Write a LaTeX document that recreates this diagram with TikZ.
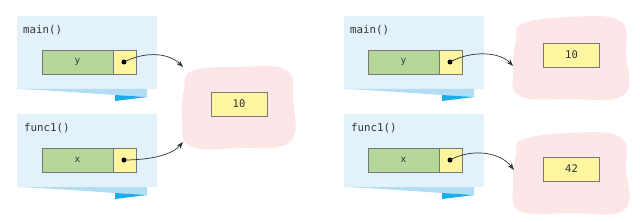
\documentclass[tikz,border=0pt]{standalone}
\usepackage{fontspec}
\setmonofont{DejaVu Sans Mono}
\usetikzlibrary{arrows.meta}
\definecolor{framebg}{HTML}{E3F1FB}
\definecolor{curlmid}{HTML}{B3DCF5}
\definecolor{curldark}{HTML}{19AEE9}
\definecolor{heap}{HTML}{FDE6E8}
\definecolor{vargreen}{HTML}{B5D89A}
\definecolor{ptryellow}{HTML}{FFF5A0}
\definecolor{edge}{HTML}{777777}
\definecolor{txt}{HTML}{333333}
\tikzset{
  title/.style={anchor=west,inner sep=0pt,font=\ttfamily\fontsize{10.8}{12}\selectfont,text=txt},
  namebox/.style={draw=edge,line width=0.8pt,fill=vargreen,minimum width=71pt,minimum height=24pt,inner sep=0pt,font=\ttfamily\fontsize{9.5}{10}\selectfont,text=txt},
  ptrbox/.style={draw=edge,line width=0.8pt,fill=ptryellow,minimum width=23pt,minimum height=24pt,inner sep=0pt},
  valbox/.style={draw=edge,line width=0.8pt,fill=ptryellow,minimum width=56pt,minimum height=24pt,inner sep=0pt,font=\ttfamily\fontsize{10.5}{11}\selectfont,text=txt},
  ptrdot/.style={circle,fill=black,inner sep=0pt,minimum size=5pt},
  ref/.style={-{Stealth[length=7pt,width=5pt]},line width=0.7pt,draw=black!80}
}
\newcommand{\stackframe}[2]{% x, y top
  \fill[framebg] (#1,#2) rectangle ++(140,73);
  \fill[curlmid] (#1,#2+73) -- ++(130,0) -- ++(0,8) .. controls (#1+80,#2+78) and (#1+30,#2+74) .. (#1,#2+73) -- cycle;
  \fill[curldark] (#1+98,#2+79) -- (#1+130,#2+81) -- (#1+98,#2+85) -- cycle;
}
\begin{document}
\begin{tikzpicture}[x=1pt,y=-1pt]
\useasboundingbox (0,0) rectangle (640,222);
\fill[white] (0,0) rectangle (640,222);
% ---------- left panel ----------
\stackframe{17}{16}
\stackframe{17}{114}
\node[title] (tmainL) at (23,30) {main()};
\node[title] (tfuncL) at (24,128) {func1()};
\fill[heap] plot[smooth cycle,tension=0.7] coordinates {(192,71) (238,67) (286,70) (293,100) (290,142) (240,148) (190,146) (182,120) (184,90)};
\node[namebox] (yL) at (77.5,62) {y};
\node[ptrbox] (ypL) at (124.5,62) {};
\node[namebox] (xL) at (77.5,160) {x};
\node[ptrbox] (xpL) at (124.5,160) {};
\node[valbox] (vL) at (239,104) {10};
\node[ptrdot] (ydL) at (124,62) {};
\node[ptrdot] (xdL) at (124,160) {};
\coordinate (tipA) at (183,67);
\coordinate (tipB) at (183,142);
\draw[ref] (ydL.center) .. controls (148,50) and (170,54) .. (tipA);
\draw[ref] (xdL.center) .. controls (150,160) and (172,155) .. (tipB);
% ---------- right panel ----------
\stackframe{344}{16}
\stackframe{344}{114}
\node[title] (tmainR) at (350,30) {main()};
\node[title] (tfuncR) at (351,128) {func1()};
\fill[heap] plot[smooth cycle,tension=0.7] coordinates {(522,24) (568,17) (620,21) (626,55) (624,95) (570,99) (520,96) (513,70) (516,40)};
\fill[heap] plot[smooth cycle,tension=0.7] coordinates {(522,140) (568,133) (620,137) (626,170) (624,210) (570,213) (520,211) (513,185) (516,155)};
\node[namebox] (yR) at (403.5,62) {y};
\node[ptrbox] (ypR) at (450.5,62) {};
\node[namebox] (xR) at (403.5,160) {x};
\node[ptrbox] (xpR) at (450.5,160) {};
\node[valbox] (vR1) at (571.5,55) {10};
\node[valbox] (vR2) at (571.5,169) {42};
\node[ptrdot] (ydR) at (450,62) {};
\node[ptrdot] (xdR) at (450,160) {};
\coordinate (tipC) at (513,66);
\coordinate (tipD) at (514,170);
\draw[ref] (ydR.center) .. controls (472,50) and (500,52) .. (tipC);
\draw[ref] (xdR.center) .. controls (472,148) and (500,152) .. (tipD);
\end{tikzpicture}
\end{document}
